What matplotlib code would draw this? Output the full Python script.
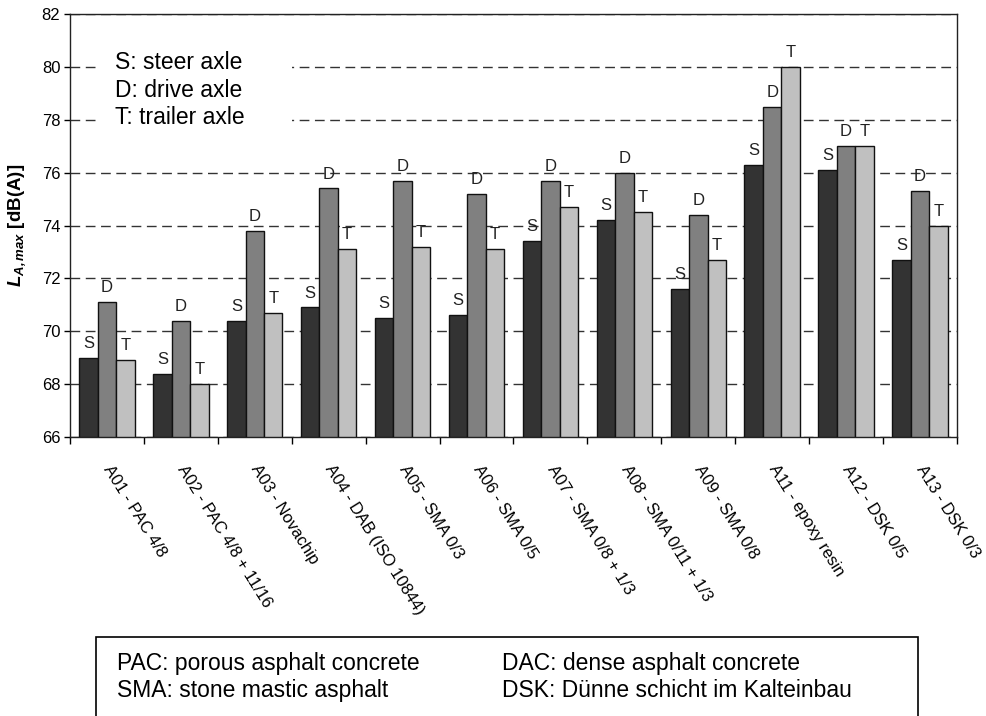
import numpy as np
import matplotlib
matplotlib.use('Agg')
import matplotlib.pyplot as plt
from matplotlib.patches import Rectangle

plt.rcParams['font.family'] = ['Liberation Sans', 'DejaVu Sans']
plt.rcParams['mathtext.fontset'] = 'custom'
plt.rcParams['mathtext.rm'] = 'Liberation Sans'
plt.rcParams['mathtext.it'] = 'Liberation Sans:italic'
plt.rcParams['mathtext.bf'] = 'Liberation Sans:bold'
plt.rcParams['mathtext.bfit'] = 'Liberation Sans:bold:italic'

# surfaces and maximum pass-by levels per axle
surfaces = ['A01 - PAC 4/8', 'A02 - PAC 4/8 + 11/16', 'A03 - Novachip',
            'A04 - DAB (ISO 10844)', 'A05 - SMA 0/3', 'A06 - SMA 0/5',
            'A07 - SMA 0/8 + 1/3', 'A08 - SMA 0/11 + 1/3', 'A09 - SMA 0/8',
            'A11 - epoxy resin', 'A12 - DSK 0/5', 'A13 - DSK 0/3']
steer = [69.0, 68.4, 70.4, 70.9, 70.5, 70.6, 73.4, 74.2, 71.6, 76.3, 76.1, 72.7]
drive = [71.1, 70.4, 73.8, 75.4, 75.7, 75.2, 75.7, 76.0, 74.4, 78.5, 77.0, 75.3]
trailer = [68.9, 68.0, 70.7, 73.1, 73.2, 73.1, 74.7, 74.5, 72.7, 80.0, 77.0, 74.0]
axles = ['S', 'D', 'T']
y_ticks = [66, 68, 70, 72, 74, 76, 78, 80, 82]

fig = plt.figure(figsize=(9.87, 7.16), dpi=100)
ax = fig.add_axes([0.0709, 0.3897, 0.8987, 0.5907])

x = np.arange(len(surfaces))
w = 0.25
colors = ['#333333', '#808080', '#c0c0c0']
for k, (vals, lab) in enumerate(zip([steer, drive, trailer], axles)):
    pos = x + (k - 1) * w
    ax.bar(pos, np.array(vals) - 66, bottom=66, width=w, color=colors[k],
           edgecolor='#111111', linewidth=1.0, zorder=3)
    for px, v in zip(pos, vals):
        ax.annotate(lab, (px, v), xytext=(0, 5), textcoords='offset points',
                    ha='center', va='bottom', fontsize=12, color='#222222', zorder=4)

ax.set_ylim(66, 82)
ax.set_xlim(-0.5, len(surfaces) - 0.5)
ax.set_yticks(y_ticks)
ax.tick_params(axis='y', direction='out', length=4, width=1, labelsize=12, pad=3)
ax.yaxis.grid(True, linestyle=(0, (7, 4)), color='#333333', linewidth=1.0, zorder=0)
ax.set_axisbelow(True)

ax.set_xticks(x)
ax.set_xticklabels(surfaces, rotation=-58, rotation_mode='anchor', ha='left',
                   va='center', fontsize=12)
ax.set_xticks(np.arange(len(surfaces) + 1) - 0.5, minor=True)
ax.tick_params(axis='x', which='major', length=0, pad=21)
ax.tick_params(axis='x', which='minor', direction='out', length=5, width=1)

for s in ax.spines.values():
    s.set_linewidth(1.0)
    s.set_color('#222222')

ax.set_ylabel(r'$\mathbfit{L}_{\mathbfit{A,max}}$ [dB(A)]', fontsize=13.5,
              fontweight='bold', labelpad=10)

# axle key, white box hides the grid behind it
ax.add_patch(Rectangle((0.0304, 0.726), 0.22, 0.201, transform=ax.transAxes,
                       facecolor='white', edgecolor='none', zorder=1))
for yy, txt in zip([0.870, 0.804, 0.740],
                   ['S: steer axle', 'D: drive axle', 'T: trailer axle']):
    ax.text(0.0507, yy, txt, transform=ax.transAxes, fontsize=16.5,
            va='baseline', ha='left', zorder=5)

# abbreviations box below the chart
fig.add_artist(Rectangle((0.0973, -0.05), 0.8327, 0.1603, transform=fig.transFigure,
                         facecolor='white', edgecolor='black', linewidth=1.2))
fig.text(0.1185, 0.0642, 'PAC: porous asphalt concrete', fontsize=16.5, va='baseline')
fig.text(0.1185, 0.0265, 'SMA: stone mastic asphalt', fontsize=16.5, va='baseline')
fig.text(0.5086, 0.0642, 'DAC: dense asphalt concrete', fontsize=16.5, va='baseline')
fig.text(0.5086, 0.0265, 'DSK: Dünne schicht im Kalteinbau', fontsize=16.5, va='baseline')

fig.savefig('out.png', dpi=100)
